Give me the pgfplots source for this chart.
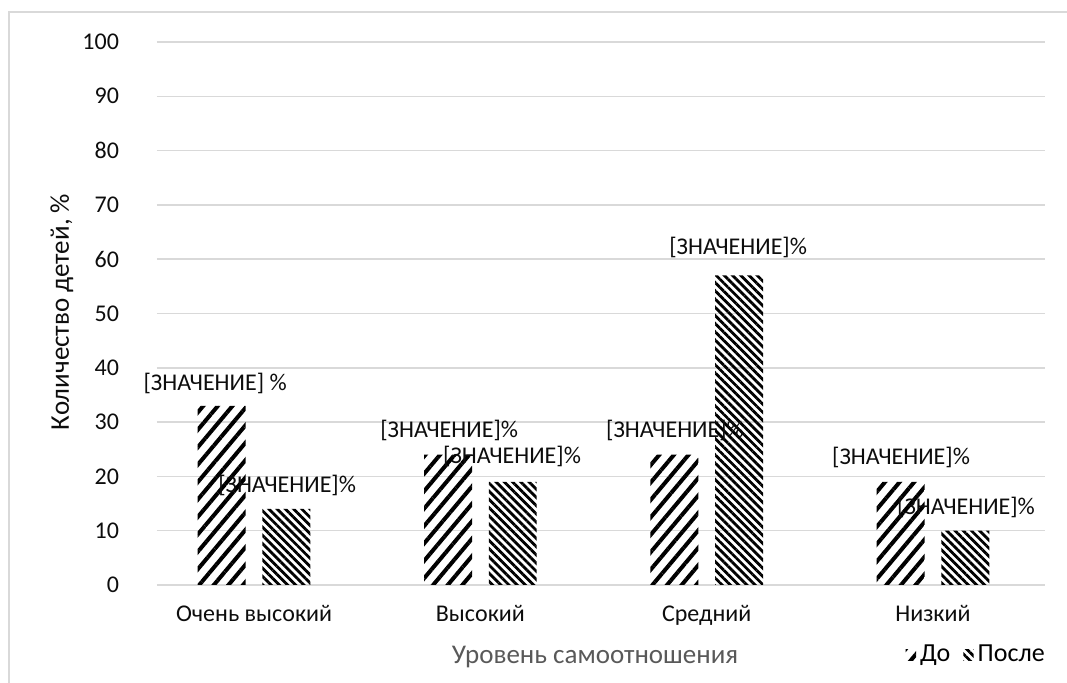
\documentclass[border=0pt]{standalone}
\usepackage{fontspec}
\setmainfont{Carlito}
\usepackage{pgfplots}
\pgfplotsset{compat=1.18}
\usetikzlibrary{patterns.meta}
\definecolor{gridgray}{RGB}{217,217,217}
\definecolor{labgray}{RGB}{89,89,89}
\definecolor{txt}{RGB}{13,13,13}
\begin{document}
\begin{tikzpicture}
\path[use as bounding box] (0,0) rectangle (533.5pt,341.5pt);
\draw[gridgray, line width=0.75pt] (4.5pt,0) -- (4.5pt,335.5pt) -- (533.5pt,335.5pt);
\begin{axis}[at={(78.5pt,49pt)}, anchor=south west, scale only axis,
  width=444pt, height=271.5pt,
  xmin=-0.429, xmax=3.495, ymin=0, ymax=100,
  ytick={0,10,...,100}, xtick={0,1,2,3},
  yticklabels={0,10,20,30,40,50,60,70,80,90,100},
  xticklabels={Очень высокий,Высокий,Средний,Низкий},
  axis line style={draw=none}, major tick length=0pt,
  ymajorgrids, grid style={gridgray, line width=0.75pt},
  tick label style={font=\fontsize{12}{14}\selectfont, text=txt},
  yticklabel style={xshift=-15.5pt, font=\fontsize{12}{14}\selectfont},
  xticklabel style={yshift=-6.5pt},
  ybar, bar width=0.212,
  legend columns=2,
  legend style={at={(0.922,-0.129)}, anchor=center, draw=none, fill=none,
    font=\fontsize{13}{15}\selectfont, column sep=1.5pt, inner sep=0pt,
    nodes={inner sep=0.5pt},
    /tikz/every even column/.append style={column sep=6pt}},
  legend image code/.code={\path[#1, draw=none] (0pt,-2.6pt) rectangle (5.2pt,2.6pt);},
  clip=false,
]
\addplot[bar shift=-0.143, draw=none, pattern={Lines[angle=50, distance=5.6pt, line width=2pt]}, pattern color=black]
  coordinates {(0,33) (1,24) (2,24) (3,19)};
\addlegendentry{До}
\addplot[bar shift=0.143, draw=none, pattern={Lines[angle=-45, distance=2.9pt, line width=1.4pt]}, pattern color=black]
  coordinates {(0,14) (1,19) (2,57) (3,10)};
\addlegendentry{После}
\begin{scope}[every node/.style={font=\fontsize{12}{14}\selectfont, text=txt, inner sep=0pt}]
\node at (axis cs:-0.172,37.2) {[ЗНАЧЕНИЕ] \%};
\node at (axis cs:0.146,18.4) {[ЗНАЧЕНИЕ]\%};
\node at (axis cs:0.862,28.4) {[ЗНАЧЕНИЕ]\%};
\node at (axis cs:1.140,23.6) {[ЗНАЧЕНИЕ]\%};
\node at (axis cs:1.860,28.4) {[ЗНАЧЕНИЕ]\%};
\node at (axis cs:2.139,62.1) {[ЗНАЧЕНИЕ]\%};
\node at (axis cs:2.859,23.4) {[ЗНАЧЕНИЕ]\%};
\node at (axis cs:3.146,14.2) {[ЗНАЧЕНИЕ]\%};
\end{scope}
\end{axis}
\node[font=\fontsize{13.5}{16}\selectfont, text=labgray] at (297.5pt,13pt) {Уровень самоотношения};
\node[font=\fontsize{13.5}{16}\selectfont, text=txt, rotate=90] at (31pt,185.5pt) {Количество детей, \%};
\end{tikzpicture}
\end{document}
